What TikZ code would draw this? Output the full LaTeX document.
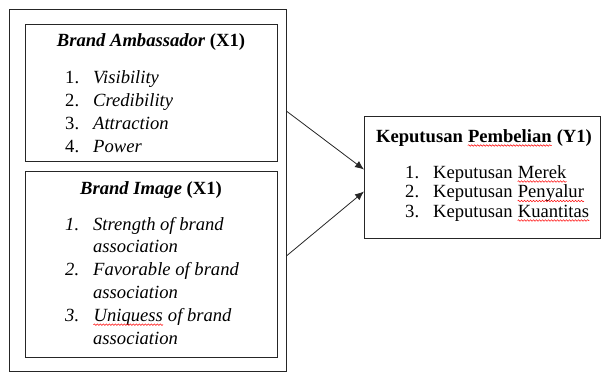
\documentclass[tikz,border=0pt]{standalone}
\usepackage{fontspec}
\setmainfont{Liberation Serif}
\usetikzlibrary{arrows.meta,positioning,calc,decorations.pathmorphing}
\newcommand\spellwave[1]{\tikz[baseline=(sw.base)]{\node[inner sep=0pt, font={}] (sw) {#1};
  \draw[red, line width=0.5pt, decorate, decoration={snake, amplitude=0.8pt, segment length=3pt}]
    ([yshift=-3.5pt]sw.base west) -- ([yshift=-3.5pt]sw.base east);}}
\newcommand\itemrow[2]{\makebox[28pt][l]{#1}#2}

\begin{document}
\begin{tikzpicture}[x=1pt, y=-1pt, >={Latex[length=9pt,width=7.5pt]},
  every node/.style={inner sep=0pt, font=\fontsize{18.6}{23}\selectfont},
  frame/.style={draw=black!85, line width=1pt, anchor=north west},
  title/.style={anchor=base},
  list/.style={anchor=base west, align=left}]
\useasboundingbox (0,0) rectangle (603,373);
% boxes
\node[frame, minimum width=277pt, minimum height=362pt] (outer) at (9,9) {};
\node[frame, minimum width=252pt, minimum height=137pt] (amb) at (25,24) {};
\node[frame, minimum width=252pt, minimum height=186pt] (img) at (25,171) {};
\node[frame, minimum width=236pt, minimum height=122pt] (kep) at (364,116) {};
% brand ambassador
\node[title] (ambtitle) at (151,46) {\textbf{\textit{Brand Ambassador} (X1)}};
\node[list] (amblist) at (65,83) {\begin{tabular}[t]{@{}l@{}}
  \itemrow{1.}{\textit{Visibility}}\\
  \itemrow{2.}{\textit{Credibility}}\\
  \itemrow{3.}{\textit{Attraction}}\\
  \itemrow{4.}{\textit{Power}}
\end{tabular}};
% brand image
\node[title] (imgtitle) at (151,194) {\textbf{\textit{Brand Image} (X1)}};
\node[list, font=\fontsize{18.6}{22.8}\selectfont\itshape] (imglist) at (65,230) {\begin{tabular}[t]{@{}l@{}}
  \itemrow{1.}{Strength of brand}\\
  \itemrow{}{association}\\
  \itemrow{2.}{Favorable of brand}\\
  \itemrow{}{association}\\
  \itemrow{3.}{\spellwave{Uniquess} of brand}\\
  \itemrow{}{association}
\end{tabular}};
% keputusan pembelian
\node[title] (keptitle) at (484,142) {\textbf{Keputusan \spellwave{Pembelian} (Y1)}};
\node[list, font=\fontsize{18.6}{19.5}\selectfont] (keplist) at (405,178) {\begin{tabular}[t]{@{}l@{}}
  \itemrow{1.}{Keputusan \spellwave{Merek}}\\
  \itemrow{2.}{Keputusan \spellwave{Penyalur}}\\
  \itemrow{3.}{Keputusan \spellwave{Kuantitas}}
\end{tabular}};
% arrows
\draw[->, black!85, line width=0.8pt] ($(outer.east)+(0,-79)$) -- ($(kep.west)+(0,-8)$);
\draw[->, black!85, line width=0.8pt] ($(outer.east)+(0,65)$) -- ($(kep.west)+(0,14)$);
\end{tikzpicture}
\end{document}
